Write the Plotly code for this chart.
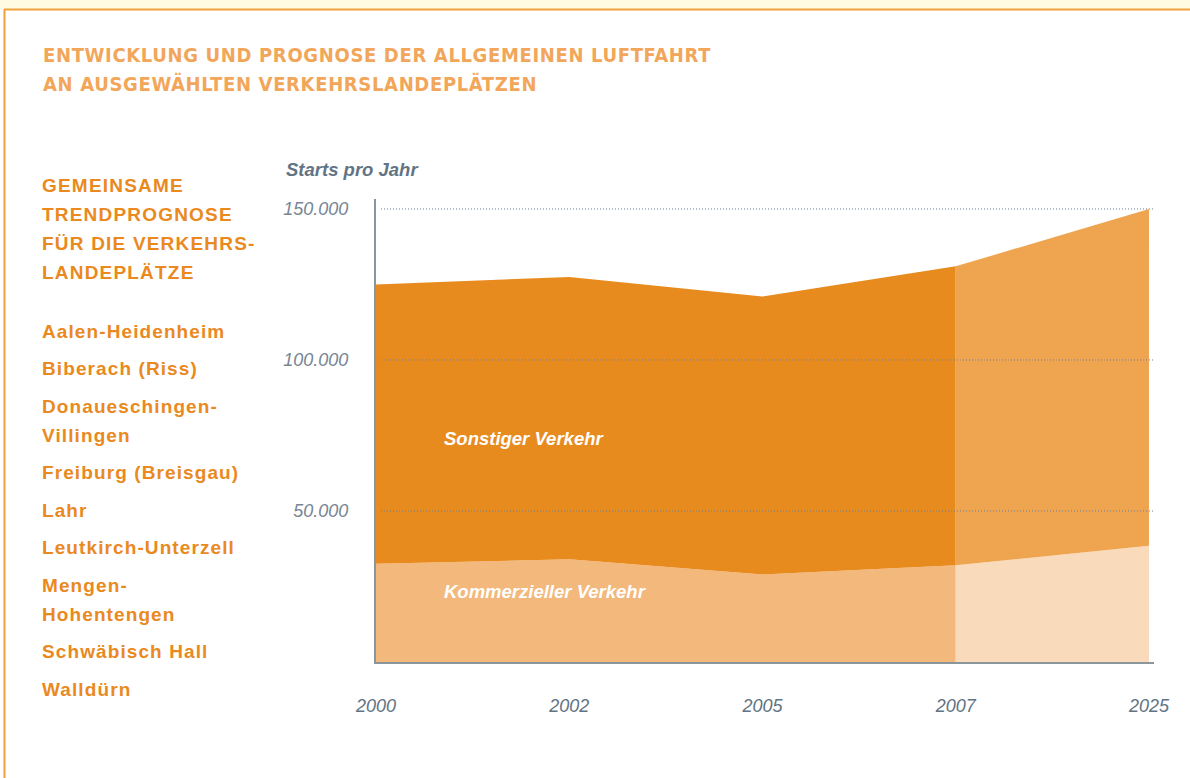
import plotly.graph_objects as go

# ---- data ----
years = ["2000", "2002", "2005", "2007", "2025"]
kommerziell = [32500, 34000, 29000, 32000, 38500]
sonstiger = [92500, 93500, 92000, 99000, 111500]
n_hist = 4  # 2000..2007 observed, 2025 forecast

y_ticks = [50000, 100000, 150000]
y_ticklabels = ["50.000", "100.000", "150.000"]

title_lines = ["ENTWICKLUNG UND PROGNOSE DER ALLGEMEINEN LUFTFAHRT",
               "AN AUSGEWÄHLTEN VERKEHRSLANDEPLÄTZEN"]
side_heading = ["GEMEINSAME", "TRENDPROGNOSE", "FÜR DIE VERKEHRS-", "LANDEPLÄTZE"]
airports = [["Aalen-Heidenheim"], ["Biberach (Riss)"], ["Donaueschingen-", "Villingen"],
            ["Freiburg (Breisgau)"], ["Lahr"], ["Leutkirch-Unterzell"],
            ["Mengen-", "Hohentengen"], ["Schwäbisch Hall"], ["Walldürn"]]

# ---- colours ----
C_SON_HIST = "rgb(232,139,30)"
C_SON_FC = "rgb(239,165,80)"
C_KOM_HIST = "rgb(243,184,124)"
C_KOM_FC = "rgb(249,219,187)"
ORANGE_TXT = "rgb(233,137,30)"
TITLE_COL = "rgb(242,166,90)"
SLATE = "rgb(98,116,132)"
GRID = "rgb(105,128,158)"

W, H = 1190, 778
L, R, T, B = 376, 1154, 199, 662

def px(x):
    return (x - L) / (R - L)

def py(y):
    return (B - y) / (B - T)

fig = go.Figure()
hx = years[:n_hist]
fx = years[n_hist - 1:]
fig.add_trace(go.Scatter(x=hx, y=kommerziell[:n_hist], stackgroup="h", mode="none",
                         fillcolor=C_KOM_HIST, name="Kommerzieller Verkehr"))
fig.add_trace(go.Scatter(x=hx, y=sonstiger[:n_hist], stackgroup="h", mode="none",
                         fillcolor=C_SON_HIST, name="Sonstiger Verkehr"))
fig.add_trace(go.Scatter(x=fx, y=kommerziell[n_hist - 1:], stackgroup="f", mode="none",
                         fillcolor=C_KOM_FC, name="Kommerzieller Verkehr (Prognose)"))
fig.add_trace(go.Scatter(x=fx, y=sonstiger[n_hist - 1:], stackgroup="f", mode="none",
                         fillcolor=C_SON_FC, name="Sonstiger Verkehr (Prognose)"))

ann = []
def txt(text, x, y, size, color, weight="bold", style="normal", family="Liberation Sans",
        anchor="left", css=None):
    t = text
    if css is not None:
        t = '<span style="%s">%s</span>' % (css, text)
    ann.append(dict(text=t, x=px(x), y=py(y), xref="paper", yref="paper",
                    xanchor=anchor, yanchor="middle", showarrow=False,
                    font=dict(size=size, color=color, family=family, weight=weight, style=style)))

# title
for i, line in enumerate(title_lines):
    txt(line, 41, 55 + 29 * i, 20, TITLE_COL, family="DejaVu Sans",
        css="font-stretch:condensed;letter-spacing:0.65px")

# side heading
for i, line in enumerate(side_heading):
    txt(line, 40, 185 + 29 * i, 19, ORANGE_TXT, css="letter-spacing:1.2px")

# airports
yy = 331
for item in airports:
    for j, line in enumerate(item):
        txt(line, 40, yy, 19, ORANGE_TXT, css="letter-spacing:1.1px")
        yy += 29 if j < len(item) - 1 else 0
    yy += 37.5

# axis title
txt("Starts pro Jahr", 284, 169, 18.5, SLATE, style="italic")

# area labels
txt("Sonstiger Verkehr", 442, 438, 18.5, "white", style="italic")
txt("Kommerzieller Verkehr", 442, 591, 18.5, "white", style="italic")

shapes = [
    dict(type="rect", xref="paper", yref="paper", x0=px(0), x1=px(W), y0=py(0), y1=py(9),
         fillcolor="rgb(255,250,226)", line=dict(width=0), layer="below"),
    dict(type="line", xref="paper", yref="paper", x0=px(4), x1=px(W), y0=py(9.5), y1=py(9.5),
         line=dict(color="rgb(240,160,60)", width=2)),
    dict(type="line", xref="paper", yref="paper", x0=px(4.5), x1=px(4.5), y0=py(9), y1=py(H),
         line=dict(color="rgb(240,160,60)", width=2)),
]
# dotted gridlines drawn above the areas
for v in y_ticks:
    shapes.append(dict(type="line", xref="paper", yref="y", x0=px(381), x1=1, y0=v, y1=v,
                       line=dict(color=GRID, width=1, dash="1px,2px"), layer="above"))

fig.update_layout(
    width=W, height=H,
    margin=dict(l=L, r=W - R, t=T, b=H - B),
    paper_bgcolor="white", plot_bgcolor="rgba(0,0,0,0)",
    showlegend=False,
    annotations=ann, shapes=shapes,
    xaxis=dict(type="category", categoryorder="array", categoryarray=years,
               range=[0, 4.026], showgrid=False, zeroline=False,
               showline=True, linecolor="rgb(138,150,156)", linewidth=2,
               ticks="", ticklabelstandoff=26,
               tickfont=dict(family="Liberation Sans", size=18, color=SLATE, style="italic")),
    yaxis=dict(range=[0, 153300], tickvals=y_ticks, ticktext=y_ticklabels,
               showgrid=False, zeroline=False, showline=True,
               linecolor="rgb(138,150,156)", linewidth=2,
               ticks="", ticklabelstandoff=22,
               tickfont=dict(family="Liberation Sans", size=18, color="rgb(120,135,148)", style="italic")),
)

fig.write_html("out.html", config={"displayModeBar": False},
               post_script="document.body.style.margin='0';document.body.style.overflow='hidden';")
